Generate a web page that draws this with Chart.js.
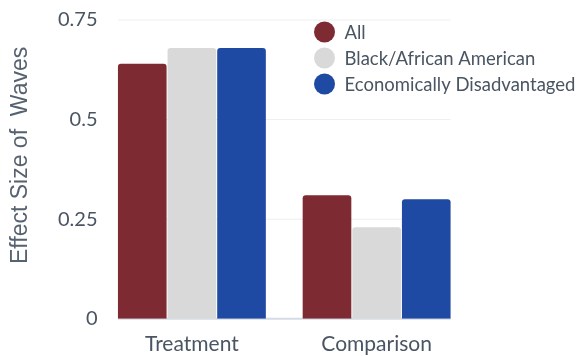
<!DOCTYPE html>
<html>
<head>
<meta charset="utf-8">
<script src="https://cdn.jsdelivr.net/npm/chart.js@4"></script>
<style>
  body { margin: 0; background: #fff; }
</style>
</head>
<body>
<canvas id="effectChart" width="577" height="356"></canvas>
<script>
// chart data
const groups = ['Treatment', 'Comparison'];
const seriesNames = ['All', 'Black/African American', 'Economically Disadvantaged'];
const allValues = [0.64, 0.31];
const blackValues = [0.68, 0.23];
const econValues = [0.68, 0.30];
const yTicks = [0, 0.25, 0.5, 0.75];
const yTitle = 'Effect Size of  Waves';

const colors = ['#7e2a33', '#d9d9d9', '#1f4aa3'];
const textColor = '#4a5563';
const fontFamily = 'Lato, "Open Sans", sans-serif';

// span of the bars, used for the grid lines
function barSpan(chart) {
    const first = chart.getDatasetMeta(0).data[0];
    const lastMeta = chart.getDatasetMeta(chart.data.datasets.length - 1);
    const last = lastMeta.data[lastMeta.data.length - 1];
    return [first.x - first.width / 2, last.x + last.width / 2];
}

// horizontal grid lines, only as wide as the bars
const barGrid = {
    id: 'barGrid',
    beforeDatasetsDraw(chart) {
        const span = barSpan(chart);
        const c = chart.ctx;
        c.save();
        yTicks.forEach(function(v) {
            const y = chart.scales.y.getPixelForValue(v);
            c.strokeStyle = v === 0 ? '#d6dce6' : '#eeeeee';
            c.lineWidth = v === 0 ? 2 : 1;
            c.beginPath();
            c.moveTo(span[0], y);
            c.lineTo(span[1], y);
            c.stroke();
        });
        c.restore();
    }
};

// y title, a bit above the middle like the original
const sideTitle = {
    id: 'sideTitle',
    afterDraw(chart) {
        const area = chart.chartArea;
        const c = chart.ctx;
        c.save();
        c.translate(21, (area.top + area.bottom) / 2 - 14);
        c.rotate(-Math.PI / 2);
        c.font = '23px "Liberation Sans", Arial, sans-serif';
        c.fillStyle = '#56626f';
        c.textAlign = 'center';
        c.textBaseline = 'middle';
        c.fillText(yTitle, 0, 0);
        c.restore();
    }
};

// legend drawn inside the plot, top right
const insideLegend = {
    id: 'insideLegend',
    afterDraw(chart) {
        const c = chart.ctx;
        const area = chart.chartArea;
        let y = area.top + 12;
        c.save();
        c.font = '18.5px ' + fontFamily;
        c.textBaseline = 'middle';
        chart.data.datasets.forEach(function(ds) {
            c.fillStyle = ds.backgroundColor;
            c.beginPath();
            c.arc(area.left + 225, y, 10.5, 0, Math.PI * 2);
            c.fill();
            c.fillStyle = textColor;
            c.fillText(ds.label, area.left + 245, y + 1);
            y += 26;
        });
        c.restore();
    }
};

var ctx = document.getElementById('effectChart').getContext('2d');
var effectChart = new Chart(ctx, {
    type: 'bar',
    data: {
        labels: groups,
        datasets: [
            { label: seriesNames[0], data: allValues, backgroundColor: colors[0] },
            { label: seriesNames[1], data: blackValues, backgroundColor: colors[1] },
            { label: seriesNames[2], data: econValues, backgroundColor: colors[2] }
        ]
    },
    options: {
        responsive: false,
        animation: false,
        layout: { padding: { top: 20, right: 108, bottom: -6, left: 56 } },
        datasets: {
            bar: {
                categoryPercentage: 0.806,
                barPercentage: 0.98,
                borderRadius: 3,
                borderSkipped: 'bottom'
            }
        },
        scales: {
            x: {
                grid: { display: false },
                border: { display: false },
                ticks: { color: textColor, font: { family: fontFamily, size: 21 }, padding: 5 }
            },
            y: {
                min: 0,
                max: 0.75,
                afterBuildTicks: function(axis) {
                    axis.ticks = yTicks.map(v => ({ value: v }));
                },
                grid: { display: false, drawTicks: false },
                border: { display: false },
                ticks: {
                    color: textColor,
                    font: { family: fontFamily, size: 20 },
                    padding: 2,
                    callback: function(value) { return String(value); }
                }
            }
        },
        plugins: {
            legend: { display: false },
            tooltip: { enabled: false }
        }
    },
    plugins: [barGrid, sideTitle, insideLegend]
});
</script>
</body>
</html>
